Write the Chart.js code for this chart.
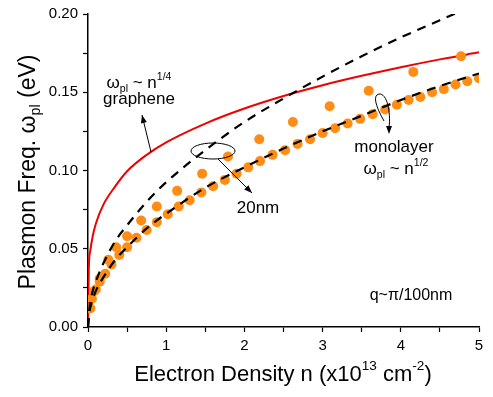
<!DOCTYPE html>
<html>
<head>
<meta charset="utf-8">
<script src="https://cdn.jsdelivr.net/npm/chart.js@4"></script>
<style>
  body { margin: 0; background: #fff; }
  #wrap { width: 493px; height: 397px; }
</style>
</head>
<body>
<div id="wrap"><canvas id="plasmon" width="493" height="397"></canvas></div>
<script>
// graphene, omega ~ n^(1/4)
var grapheneN = [0, 0.01, 0.03, 0.06, 0.1, 0.2, 0.35, 0.5, 0.75, 1, 1.5, 2, 2.5, 3, 3.5, 4, 4.5, 5];
var grapheneW = [0, 0.037, 0.049, 0.058, 0.066, 0.0785, 0.090, 0.0995, 0.110, 0.118, 0.130, 0.1396, 0.1476, 0.1545, 0.1605, 0.166, 0.171, 0.1755];

// dashed fits, omega ~ n^(1/2)
var fitN = [0, 0.02, 0.05, 0.1, 0.2, 0.35, 0.5, 0.75, 1, 1.5, 2, 2.5, 3, 3.5, 4, 4.5, 5];
var fit20nmW = [0, 0.013, 0.021, 0.029, 0.041, 0.055, 0.065, 0.080, 0.0925, 0.113, 0.131, 0.146, 0.160, 0.173, 0.185, 0.196, 0.207];
var fitMonoW = [0, 0.010, 0.016, 0.023, 0.032, 0.043, 0.051, 0.063, 0.0724, 0.089, 0.102, 0.114, 0.125, 0.135, 0.145, 0.154, 0.162];

// measured points, 20nm
var film20N = [0.03, 0.08, 0.15, 0.26, 0.36, 0.50, 0.68, 0.88, 1.14, 1.46, 1.79, 2.19, 2.62, 3.09, 3.59, 4.16, 4.77];
var film20W = [0.012, 0.023, 0.031, 0.043, 0.051, 0.058, 0.068, 0.077, 0.087, 0.098, 0.109, 0.120, 0.131, 0.141, 0.151, 0.163, 0.173];

// measured points, monolayer
var monoN = [0.02, 0.05, 0.1, 0.15, 0.22, 0.3, 0.4, 0.5, 0.62, 0.75, 0.88, 1.02, 1.16, 1.3, 1.45, 1.6, 1.75, 1.9,
             2.05, 2.2, 2.36, 2.52, 2.68, 2.84, 3.0, 3.16, 3.32, 3.48, 3.64, 3.8, 3.95, 4.1, 4.25, 4.4, 4.55, 4.7, 4.85, 5.0];
var monoW = [0.012, 0.018, 0.024, 0.029, 0.034, 0.040, 0.046, 0.051, 0.057, 0.062, 0.067, 0.072, 0.077, 0.081, 0.086, 0.090, 0.094, 0.098,
             0.102, 0.106, 0.110, 0.113, 0.117, 0.120, 0.124, 0.127, 0.130, 0.133, 0.136, 0.139, 0.142, 0.145, 0.147, 0.150, 0.152, 0.155, 0.157, 0.159];

var xTicksMajor = [0, 1, 2, 3, 4, 5];
var yTicksMajor = [0, 0.05, 0.10, 0.15, 0.20];

function pts(xs, ys) {
  return xs.map(function (x, i) { return { x: x, y: ys[i] }; });
}

var FONT = '"Liberation Sans", Arial, sans-serif';
var ORANGE = 'rgb(255,140,20)';

// text with sub/superscript pieces
function rich(c, parts, x, y, size, align) {
  var w = 0;
  parts.forEach(function (p) {
    c.font = (p[1] ? size * 0.62 : size) + 'px ' + FONT;
    p.w = c.measureText(p[0]).width;
    w += p.w;
  });
  var cx = align === 'center' ? x - w / 2 : x;
  c.textAlign = 'left';
  c.textBaseline = 'alphabetic';
  parts.forEach(function (p) {
    c.font = (p[1] ? size * 0.62 : size) + 'px ' + FONT;
    var dy = p[1] === 'sub' ? size * 0.22 : p[1] === 'sup' ? -size * 0.48 : 0;
    c.fillText(p[0], cx, y + dy);
    cx += p.w;
  });
}

function arrow(c, x1, y1, x2, y2) {
  c.beginPath();
  c.moveTo(x1, y1);
  c.lineTo(x2, y2);
  c.stroke();
  head(c, x2, y2, Math.atan2(y2 - y1, x2 - x1));
}

function head(c, x, y, a) {
  c.beginPath();
  c.moveTo(x, y);
  c.lineTo(x - 8 * Math.cos(a) + 3 * Math.sin(a), y - 8 * Math.sin(a) - 3 * Math.cos(a));
  c.lineTo(x - 8 * Math.cos(a) - 3 * Math.sin(a), y - 8 * Math.sin(a) + 3 * Math.cos(a));
  c.closePath();
  c.fill();
}

var notes = {
  id: 'notes',
  afterDraw: function (chart) {
    var c = chart.ctx;
    c.save();
    c.fillStyle = '#000';
    c.strokeStyle = '#000';
    c.lineWidth = 1;

    // axis titles
    rich(c, [['Electron Density n (x10'], ['13', 'sup'], [' cm'], ['-2', 'sup'], [')']], 283, 381, 22, 'center');
    c.save();
    c.translate(35, 172);
    c.rotate(-Math.PI / 2);
    rich(c, [['Plasmon Freq. '], ['\u03C9', 0], ['pl', 'sub'], [' (eV)']], 0, 0, 23, 'center');
    c.restore();

    // graphene label
    rich(c, [['\u03C9'], ['pl', 'sub'], [' ~ n'], ['1/4', 'sup']], 139, 88, 17, 'center');
    rich(c, [['graphene']], 139, 104, 17, 'center');
    arrow(c, 151, 152, 142, 115);

    // 20nm label
    c.beginPath();
    c.ellipse(213, 151, 22, 8, 0, 0, 2 * Math.PI);
    c.stroke();
    arrow(c, 218, 159, 252, 193);
    rich(c, [['20nm']], 258, 213, 17, 'center');

    // monolayer label
    c.beginPath();
    c.moveTo(384, 121);
    c.quadraticCurveTo(370, 96, 379, 94);
    c.bezierCurveTo(387, 93, 391, 112, 389, 128);
    c.stroke();
    head(c, 389, 134, Math.PI / 2);
    rich(c, [['monolayer']], 394, 152, 17, 'center');
    rich(c, [['\u03C9'], ['pl', 'sub'], [' ~ n'], ['1/2', 'sup']], 396, 174, 17, 'center');

    rich(c, [['q~\u03C0/100nm']], 411, 300, 16, 'center');
    c.restore();
  }
};

var ctx = document.getElementById('plasmon').getContext('2d');
var chart = new Chart(ctx, {
  type: 'line',
  data: {
    datasets: [
      {
        label: 'fit 20nm',
        data: pts(fitN, fit20nmW),
        borderColor: '#000',
        borderWidth: 2.2,
        borderDash: [9, 7],
        pointRadius: 0,
        cubicInterpolationMode: 'monotone',
        order: 0
      },
      {
        label: 'fit monolayer',
        data: pts(fitN, fitMonoW),
        borderColor: '#000',
        borderWidth: 2.2,
        borderDash: [9, 7],
        pointRadius: 0,
        cubicInterpolationMode: 'monotone',
        order: 0
      },
      {
        label: '20nm',
        data: pts(film20N, film20W),
        showLine: false,
        pointRadius: 5,
        pointBorderWidth: 0,
        pointBackgroundColor: ORANGE,
        order: 1
      },
      {
        label: 'monolayer',
        data: pts(monoN, monoW),
        showLine: false,
        pointRadius: 5,
        pointBorderWidth: 0,
        pointBackgroundColor: ORANGE,
        order: 1
      },
      {
        label: 'graphene',
        data: pts(grapheneN, grapheneW),
        borderColor: 'rgb(240,0,0)',
        borderWidth: 2,
        pointRadius: 0,
        cubicInterpolationMode: 'monotone',
        order: 2
      }
    ]
  },
  options: {
    responsive: false,
    animation: false,
    devicePixelRatio: 1,
    layout: { padding: { left: 0, top: 9, right: 14, bottom: 0 } },
    plugins: { legend: { display: false }, tooltip: { enabled: false } },
    scales: {
      x: {
        type: 'linear',
        min: 0,
        max: 5,
        afterFit: function (s) { s.height = 70; },
        border: { display: true, color: '#000', width: 1.5 },
        grid: { drawOnChartArea: false, drawTicks: true, tickLength: 5, tickColor: '#000', tickWidth: 1.2 },
        ticks: {
          stepSize: 0.5,
          autoSkip: false,
          maxRotation: 0,
          padding: 5,
          color: '#000',
          font: { family: FONT, size: 15 },
          callback: function (v) { return xTicksMajor.indexOf(v) >= 0 ? String(v) : ''; }
        }
      },
      y: {
        type: 'linear',
        min: 0,
        max: 0.2,
        afterFit: function (s) { s.width = 88; },
        border: { display: true, color: '#000', width: 1.5 },
        grid: { drawOnChartArea: false, drawTicks: true, tickLength: 5, tickColor: '#000', tickWidth: 1.2 },
        ticks: {
          stepSize: 0.025,
          autoSkip: false,
          padding: 5,
          color: '#000',
          font: { family: FONT, size: 15 },
          callback: function (v) {
            for (var i = 0; i < yTicksMajor.length; i++) {
              if (Math.abs(v - yTicksMajor[i]) < 1e-6) return yTicksMajor[i].toFixed(2);
            }
            return '';
          }
        }
      }
    }
  },
  plugins: [notes]
});
</script>
</body>
</html>
